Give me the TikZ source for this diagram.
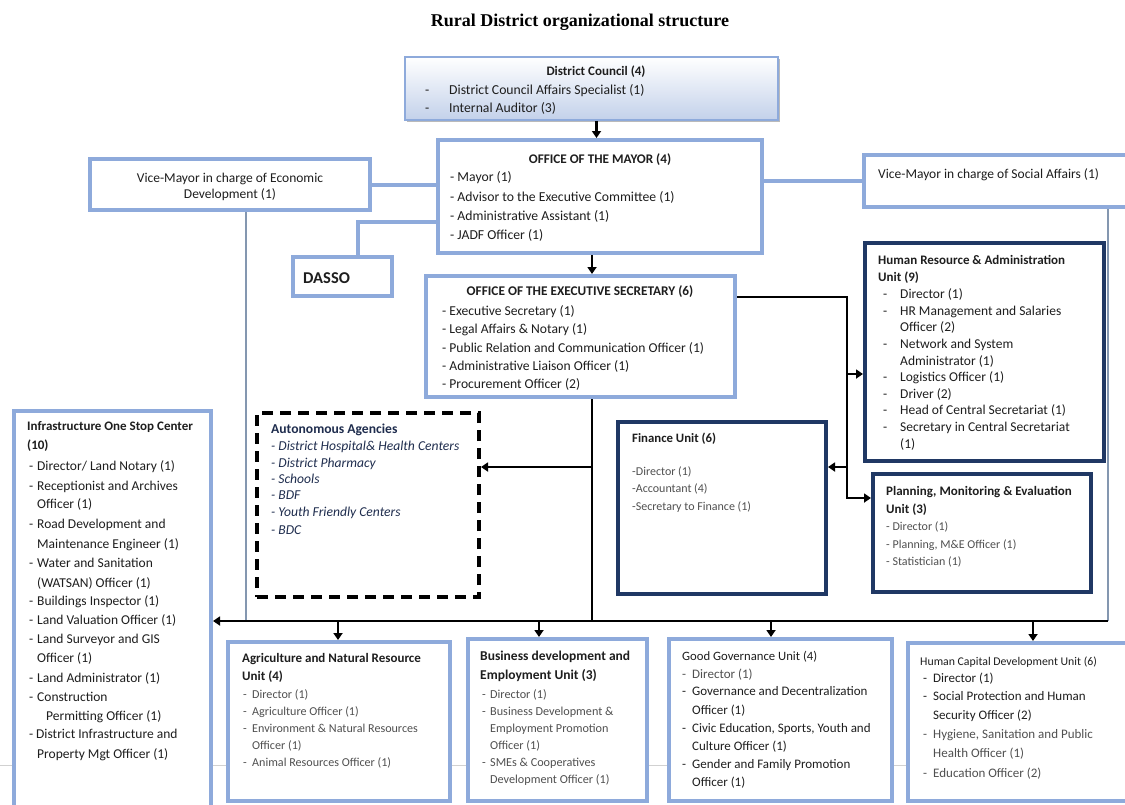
\documentclass[tikz,border=0pt]{standalone}
\usepackage{fontspec}
\setmainfont{Carlito}
\newfontfamily\titlefont{Liberation Serif}
\usetikzlibrary{arrows.meta,fit,shadows}

\definecolor{lblue}{HTML}{8EAADB}
\definecolor{navy}{HTML}{203864}
\definecolor{ink}{HTML}{1E1E1E}
\definecolor{dim}{HTML}{505050}
\definecolor{thinblue}{HTML}{8497B0}
\definecolor{dcfill}{HTML}{C3D1EA}
\definecolor{autoink}{HTML}{1F2D4E}

% bullet dash in a fixed-width slot, and the matching indent for wrapped lines
\newcommand\itm[1]{\makebox[#1pt][l]{-}}
\newcommand\ind[1]{\hspace*{#1pt}}
% font size shorthand
\newcommand\fs[1]{\fontsize{#1}{#1}\selectfont}

% one text node per line: name prefix, x, extra options, list of y/text
\newcommand\textlines[4]{%
  \foreach \yy/\lineT [count=\i] in {#4}
    \node[txt,#3] (#1-\i) at (#2,\yy) {\lineT};}

\tikzset{
  txt/.style={inner sep=0pt, anchor=base west, text=ink, font=\fs{13.5}},
  frame/.style={inner sep=0pt, fill=white},
  lbox/.style={frame, draw=lblue, line width=4pt},
  nbox/.style={frame, draw=navy, line width=4pt},
  dbox/.style={frame, draw=black, line width=4pt, dash pattern=on 11pt off 7pt},
  dcbox/.style={inner sep=0pt, draw=lblue, line width=1.6pt, top color=white, bottom color=dcfill,
    drop shadow={shadow xshift=2pt, shadow yshift=-2pt, fill=black!60, opacity=0.45}},
  blk/.style={draw=black, line width=2.8pt},
  tipped/.style={-{Triangle[length=7pt,width=9pt]}},
  bluelink/.style={draw=lblue, line width=4pt},
  thinlink/.style={draw=thinblue, line width=1.4pt},
}

\begin{document}
\begin{tikzpicture}[x=1pt,y=-1pt]
\useasboundingbox[fill=white] (0,0) rectangle (1125,804);

% faint page rule behind the lower boxes
\draw[black!18, line width=1pt] (0,765) -- (1125,765);

\node[font=\titlefont\bfseries\fs{18}, anchor=base, inner sep=0pt] (title) at (580,26) {Rural District organizational structure};

% ---------- boxes ----------
\node[dcbox, fit={(405,57) (778,120)}] (dc) {};
\node[lbox, fit={(438,140) (762,253)}] (mayor) {};
\node[lbox, fit={(90,159) (370,210)}] (vme) {};
\node[lbox, fit={(864,155) (1140,207)}] (vms) {};
\node[lbox, fit={(293,257) (392,296)}] (dasso) {};
\node[lbox, fit={(426,276) (735,397)}] (exec) {};
\node[nbox, fit={(865,243) (1104,461)}] (hr) {};
\node[nbox, fit={(618,422) (826,594)}] (fin) {};
\node[nbox, fit={(873,474) (1091,592)}] (pme) {};
\node[dbox, fit={(257,413) (479,597)}] (auto) {};
\node[lbox, fit={(14,411) (211,815)}] (infra) {};
\node[lbox, fit={(228,642) (450,801)}] (agri) {};
\node[lbox, fit={(468,639) (647,801)}] (bdev) {};
\node[lbox, fit={(669,639) (892,801)}] (gg) {};
\node[lbox, fit={(908,643) (1140,801)}] (hcd) {};

% ---------- connectors ----------
\coordinate (dk) at (358,222);
\coordinate (sp1) at (847,297);
\coordinate (sp2) at (847,374);
\coordinate (sp3) at (847,467);
\coordinate (sp4) at (847,498);
\coordinate (sa) at (592,467);
\coordinate (jn) at (592,621);
\coordinate (ve) at (246,621);
\coordinate (vs) at (1108,621);
\coordinate (b1) at (338,621);
\coordinate (b2) at (539,621);
\coordinate (b3) at (771,621);
\coordinate (b4) at (1033,621);

\draw[bluelink] (vme.east) -- (vme.east -| mayor.west);
\draw[bluelink] (vms.west) -- (vms.west -| mayor.east);
\draw[bluelink] (dk -| mayor.west) -- (dk) -- (dk |- dasso.north);
\draw[thinlink] (ve |- vme.south) -- (ve);
\draw[thinlink] (vs |- vms.south) -- (vs);

\draw[blk, tipped] ([xshift=5pt]dc.south) -- ([xshift=5pt]dc.south |- mayor.north);
\draw[blk, tipped] ([xshift=-8pt]mayor.south) -- ([xshift=-8pt]mayor.south |- exec.north);
\draw[blk, tipped] (sp1 -| exec.east) -- (sp1) -- (sp4) -- (sp4 -| pme.west);
\draw[blk, tipped] (sp2) -- (sp2 -| hr.west);
\draw[blk, tipped] (sp3) -- (sp3 -| fin.east);
\draw[blk] (jn |- exec.south) -- (jn);
\draw[blk, tipped] (sa) -- (sa -| auto.east);
\draw[blk, tipped] (vs) -- (vs -| infra.east);
\draw[blk, tipped] (b1) -- (b1 |- agri.north);
\draw[blk, tipped] (b2) -- (b2 |- bdev.north);
\draw[blk, tipped] (b3) -- (b3 |- gg.north);
\draw[blk, tipped] (b4) -- (b4 |- hcd.north);

% ---------- texts ----------
\node[txt, anchor=base, font=\bfseries\fs{13}] (dc-t) at (596,75) {District Council (4)};
\textlines{dc}{425}{font=\fs{13.7}}{94/{\itm{24}District Council Affairs Specialist (1)}, 112/{\itm{24}Internal Auditor (3)}}

\node[txt, anchor=base, font=\bfseries\fs{13.2}] (mayor-t) at (600,163) {OFFICE OF THE MAYOR (4)};
\textlines{mayor}{450}{font=\fs{13.7}}{181/{- Mayor (1)}, 201/{- Advisor to the Executive Committee (1)}, 220/{- Administrative Assistant (1)}, 239/{- JADF Officer (1)}}

\textlines{vme}{230}{anchor=base}{182/{Vice-Mayor in charge of Economic}, 198/{Development (1)}}
\node[txt] (vms-t) at (878,178) {Vice-Mayor in charge of Social Affairs (1)};
\node[txt, font=\bfseries\fs{16.5}] (dasso-t) at (303,283) {DASSO};

\node[txt, anchor=base, font=\bfseries\fs{13.3}] (exec-t) at (580,295) {OFFICE OF THE EXECUTIVE SECRETARY (6)};
\textlines{exec}{442}{font=\fs{13.6}}{315/{- Executive Secretary (1)}, 333/{- Legal Affairs \& Notary (1)}, 352/{- Public Relation and Communication Officer (1)}, 370/{- Administrative Liaison Officer (1)}, 388/{- Procurement Officer (2)}}

\textlines{hrt}{878}{font=\bfseries\fs{13}}{264/{Human Resource \& Administration}, 281/{Unit (9)}}
\textlines{hr}{883}{}{298/{\itm{17}Director (1)}, 315/{\itm{17}HR Management and Salaries}, 331/{\ind{17}Officer (2)}, 348/{\itm{17}Network and System}, 365/{\ind{17}Administrator (1)}, 381/{\itm{17}Logistics Officer (1)}, 398/{\itm{17}Driver (2)}, 414/{\itm{17}Head of Central Secretariat (1)}, 431/{\itm{17}Secretary in Central Secretariat}, 448/{\ind{17}(1)}}

\node[txt, font=\bfseries\fs{12.8}] (fin-t) at (632,442) {Finance Unit (6)};
\textlines{fin}{632}{text=dim, font=\fs{12}}{475/{-Director (1)}, 492/{-Accountant (4)}, 510/{-Secretary to Finance (1)}}

\textlines{pmet}{886}{font=\bfseries\fs{13}}{495/{Planning, Monitoring \& Evaluation}, 513/{Unit (3)}}
\textlines{pme}{886}{text=dim, font=\fs{12}}{530/{- Director (1)}, 548/{- Planning, M\&E Officer (1)}, 565/{- Statistician (1)}}

\node[txt, text=autoink, font=\bfseries\fs{13.6}] (auto-t) at (271,433) {Autonomous Agencies};
\textlines{auto}{271}{text=autoink, font=\itshape\fs{13.6}}{450/{- District Hospital\& Health Centers}, 467/{- District Pharmacy}, 483/{- Schools}, 499/{- BDF}, 516/{- Youth Friendly Centers}, 534/{- BDC}}

\textlines{infrat}{27}{font=\bfseries\fs{13}}{430/{Infrastructure One Stop Center}, 449/{(10)}}
\textlines{infra}{29}{}{470/{\itm{8}Director/ Land Notary (1)}, 490/{\itm{8}Receptionist and Archives}, 508/{\ind{8}Officer (1)}, 528/{\itm{8}Road Development and}, 548/{\ind{8}Maintenance Engineer (1)}, 567/{\itm{8}Water and Sanitation}, 587/{\ind{8}(WATSAN) Officer (1)}, 605/{\itm{8}Buildings Inspector (1)}, 624/{\itm{8}Land Valuation Officer (1)}, 643/{\itm{8}Land Surveyor and GIS}, 662/{\ind{8}Officer (1)}, 682/{\itm{8}Land Administrator (1)}, 701/{\itm{8}Construction}, 720/{\ind{17}Permitting Officer (1)}, 738/{\itm{7}District Infrastructure and}, 758/{\ind{8}Property Mgt Officer (1)}}

\textlines{agrit}{242}{font=\bfseries\fs{13}}{662/{Agriculture and Natural Resource}, 680/{Unit (4)}}
\textlines{agri}{243}{text=dim, font=\fs{12.1}}{698/{\itm{9}Director (1)}, 715/{\itm{9}Agriculture Officer (1)}, 732/{\itm{9}Environment \& Natural Resources}, 749/{\ind{9}Officer (1)}, 766/{\itm{9}Animal Resources Officer (1)}}

\textlines{bdevt}{480}{font=\bfseries\fs{13.5}}{660/{Business development and}, 679/{Employment Unit (3)}}
\textlines{bdev}{482}{text=dim, font=\fs{12.2}}{698/{\itm{8}Director (1)}, 715/{\itm{8}Business Development \&}, 732/{\ind{8}Employment Promotion}, 749/{\ind{8}Officer (1)}, 766/{\itm{8}SMEs \& Cooperatives}, 783/{\ind{8}Development Officer (1)}}

\node[txt, font=\fs{12.7}] (gg-t) at (682,660) {Good Governance Unit (4)};
\textlines{ggd}{682}{text=dim, font=\fs{13}}{678/{\itm{10}Director (1)}}
\textlines{gg}{682}{font=\fs{13}}{695/{\itm{10}Governance and Decentralization}, 714/{\ind{10}Officer (1)}, 732/{\itm{10}Civic Education, Sports, Youth and}, 750/{\ind{10}Culture Officer (1)}, 768/{\itm{10}Gender and Family Promotion}, 786/{\ind{10}Officer (1)}}

\node[txt, font=\fs{11.8}] (hcd-t) at (920,665) {Human Capital Development Unit (6)};
\textlines{hcd}{923}{font=\fs{13}}{682/{\itm{10}Director (1)}, 700/{\itm{10}Social Protection and Human}, 719/{\ind{10}Security Officer (2)}}
\textlines{hcdd}{923}{text=dim, font=\fs{13}}{738/{\itm{10}Hygiene, Sanitation and Public}, 757/{\ind{10}Health Officer (1)}, 777/{\itm{10}Education Officer (2)}}
\end{tikzpicture}
\end{document}
